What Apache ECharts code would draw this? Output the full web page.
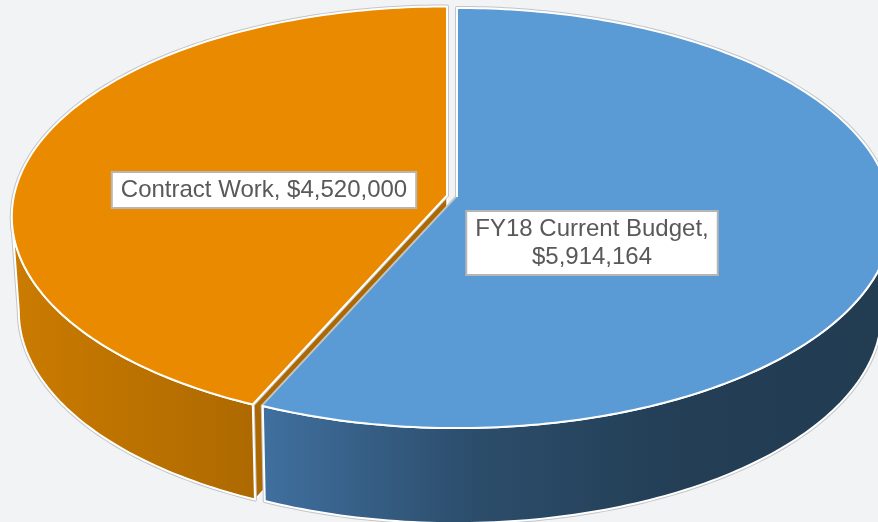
<!DOCTYPE html>
<html>
<head>
<meta charset="utf-8">
<script src="https://cdn.jsdelivr.net/npm/echarts@6/dist/echarts.min.js"></script>
<style>
  html, body { margin: 0; padding: 0; background: #f2f3f5; }
  #chart { width: 878px; height: 522px; }
</style>
</head>
<body>
<div id="chart"></div>
<script>
let categories = ['FY18 Current Budget', 'Contract Work'];
let budgetValues = [5914164, 4520000];

// look of each slice, same order as categories
let topColors = ['#5b9bd5', '#ea8a00'];
let wallColors = [['#40709f', '#2c4d6b', '#233e55', '#223c52'], ['#cb7b00', '#ad6900']];
let cutColors = ['#2a4a68', '#ad6900'];
let apexX = [457, 447];
let apexY = [197, 195.5];
let labelPos = [[592, 243], [264, 190]];
let labelWrap = [true, false];

const RADIUS_X = 433, RADIUS_Y = 208, PERSPECTIVE = 0.1, DEPTH = 95;
// the underside is further from the camera, it shrinks towards this x
const BOTTOM_SHRINK = 0.98, VANISH_X = 362;
// where the rim has a vertical tangent once perspective is applied
const SIDE_LEFT = 264.3, SIDE_RIGHT = 95.7;

// angle (deg, clockwise from 12 o'clock) -> pixel on the tilted disc
function project(deg, i, low) {
  let rad = deg * Math.PI / 180;
  let u = Math.sin(rad), v = Math.cos(rad);
  let w = 1 + PERSPECTIVE * v;
  let x = apexX[i] + RADIUS_X * u / w;
  let y = apexY[i] - RADIUS_Y * v / w;
  if (low) return [VANISH_X + (x - VANISH_X) * BOTTOM_SHRINK, y + DEPTH];
  return [x, y];
}

function arc(from, to, i, low) {
  let pts = [];
  let steps = Math.ceil(Math.abs(to - from));
  for (let s = 0; s <= steps; s++) {
    pts.push(project(from + (to - from) * s / steps, i, low));
  }
  return pts;
}

let total = budgetValues.reduce((a, b) => a + b, 0);

function money(n) {
  return '$' + String(n).replace(/\B(?=(\d{3})+$)/g, ',');
}

function renderSlice(params) {
  let i = params.dataIndex;
  let before = budgetValues.slice(0, i).reduce((a, b) => a + b, 0);
  let start = before / total * 360;
  let end = (before + budgetValues[i]) / total * 360;
  // first slice sits on top of the second one where they meet
  let base = i === 0 ? 20 : 0;
  let children = [];

  let top = [[apexX[i], apexY[i]]].concat(arc(start, end, i, false));

  // only the part of the wall that faces the viewer
  let wallFrom = Math.max(start, SIDE_RIGHT), wallTo = Math.min(end, SIDE_LEFT);
  let wall = arc(wallFrom, wallTo, i, false).concat(arc(wallFrom, wallTo, i, true).reverse());

  // cut face along the front edge of the slice
  if (i === 1) {
    children.push({
      type: 'polygon', z2: base + 1,
      shape: { points: [[apexX[i], apexY[i]], project(start, i, false), project(start, i, true), [apexX[i], apexY[i] + DEPTH]] },
      style: { fill: cutColors[i], stroke: '#ffffff', lineWidth: 1.5 }
    });
  }

  let stops = wallColors[i].map((c, n) => ({ offset: n / (wallColors[i].length - 1), color: c }));
  children.push({
    type: 'polygon', z2: base + 2,
    shape: { points: wall },
    style: { fill: 'none', stroke: '#c3c5c8', lineWidth: 4, lineJoin: 'round' }
  });
  children.push({
    type: 'polygon', z2: base + 3,
    shape: { points: top },
    style: { fill: 'none', stroke: '#c3c5c8', lineWidth: 4, lineJoin: 'round' }
  });
  children.push({
    type: 'polygon', z2: base + 4,
    shape: { points: wall },
    style: {
      fill: new echarts.graphic.LinearGradient(0, 0, 1, 0, stops),
      stroke: '#ffffff', lineWidth: 2, lineJoin: 'round'
    }
  });
  children.push({
    type: 'polygon', z2: base + 5,
    shape: { points: top },
    style: { fill: topColors[i] }
  });
  // blue has no white edge on the side that faces the brown cut
  children.push({
    type: i === 0 ? 'polyline' : 'polygon', z2: base + 6,
    shape: { points: top },
    style: { fill: 'none', stroke: '#ffffff', lineWidth: 2, lineJoin: 'round' }
  });

  let sep = labelWrap[i] ? ',\n' : ', ';
  children.push({
    type: 'text', z2: 100,
    x: labelPos[i][0], y: labelPos[i][1],
    style: {
      text: categories[i] + sep + money(budgetValues[i]),
      fill: '#595959',
      font: '24px "Liberation Sans", Arial, sans-serif',
      align: 'center', verticalAlign: 'middle',
      lineHeight: 28,
      backgroundColor: '#ffffff',
      borderColor: '#b4b6b8', borderWidth: 2,
      padding: [4, 8, 2, 8]
    }
  });
  return { type: 'group', children: children };
}

let chart = echarts.init(document.getElementById('chart'));
chart.setOption({
  backgroundColor: '#f2f3f5',
  animation: false,
  series: [{
    type: 'custom',
    coordinateSystem: 'none',
    clip: false,
    renderItem: renderSlice,
    data: budgetValues
  }]
});
</script>
</body>
</html>
